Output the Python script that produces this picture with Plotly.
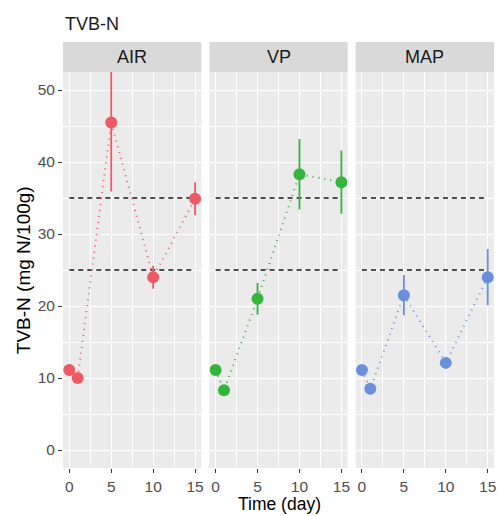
import plotly.graph_objects as go

# Storage days
days = [0, 1, 5, 10, 15]

# Packaging conditions
packages = ["AIR", "VP", "MAP"]

# Mean TVB-N (mg N/100g) per condition
air_mean = [11.1, 10.0, 45.5, 24.0, 34.9]
vp_mean = [11.1, 8.3, 21.0, 38.3, 37.2]
map_mean = [11.1, 8.5, 21.5, 12.1, 24.0]

# Standard deviations (0 where no bar is drawn)
air_sd = [0.0, 0.0, 9.6, 1.6, 2.3]
vp_sd = [0.0, 0.0, 2.2, 4.9, 4.4]
map_sd = [0.0, 0.0, 2.8, 0.0, 3.9]

# Reference limits
limits = [35, 25]

colors = ["#EE5A64", "#34B53D", "#6B8FDA"]
means = [air_mean, vp_mean, map_mean]
sds = [air_sd, vp_sd, map_sd]

FONT = "Liberation Sans, Arial, sans-serif"

W, H = 498, 516
L, R, T, B = 63, 1, 72, 48
plot_w = W - L - R
plot_h = H - T - B
panel_w = 139
gap = 8
domains = []
for i in range(3):
    x0 = i * (panel_w + gap) / plot_w
    x1 = min(1.0, (i * (panel_w + gap) + panel_w) / plot_w)
    domains.append([x0, x1])

fig = go.Figure()

tick_font = dict(family=FONT, size=15.5, color="#4D4D4D")

for i, pkg in enumerate(packages):
    xa = "x" if i == 0 else f"x{i+1}"
    # Reference limit lines
    for lim in limits:
        fig.add_trace(go.Scatter(
            x=[0, 15], y=[lim, lim], mode="lines", xaxis=xa, yaxis="y",
            line=dict(color="#1A1A1A", width=1.3, dash="5px,4px"),
            showlegend=False, hoverinfo="skip"))
    # Dotted connecting line
    fig.add_trace(go.Scatter(
        x=days, y=means[i], mode="lines", xaxis=xa, yaxis="y",
        line=dict(color=colors[i], width=2, dash="1px,5px"),
        showlegend=False, hoverinfo="skip"))
    # Error bars
    fig.add_trace(go.Scatter(
        x=days, y=means[i], mode="markers", xaxis=xa, yaxis="y",
        marker=dict(color=colors[i], size=0.1, opacity=0),
        error_y=dict(type="data", array=sds[i], visible=True,
                     color=colors[i], thickness=1.8, width=0),
        showlegend=False))
    # Points
    fig.add_trace(go.Scatter(
        x=days, y=means[i], mode="markers", xaxis=xa, yaxis="y",
        marker=dict(color=colors[i], size=12, line=dict(width=0)),
        showlegend=False, name=pkg))

    axis = dict(
        domain=domains[i], range=[-0.75, 15.75], anchor="y",
        tickvals=[0, 5, 10, 15], ticks="outside", ticklen=4, tickwidth=1,
        tickcolor="#333333", tickfont=tick_font, showgrid=True,
        gridcolor="white", gridwidth=1.4, zeroline=False, showline=False,
        minor=dict(tickvals=[2.5, 7.5, 12.5], showgrid=True,
                   gridcolor="white", gridwidth=0.6, ticks=""),
    )
    key = "xaxis" if i == 0 else f"xaxis{i+1}"
    fig.layout[key] = axis

    # Panel background
    fig.add_shape(type="rect", xref="paper", yref="paper",
                  x0=domains[i][0], x1=domains[i][1], y0=0, y1=1,
                  fillcolor="#EBEBEB", line=dict(width=0), layer="below")
    # Strip
    fig.add_shape(type="rect", xref="paper", yref="paper",
                  x0=domains[i][0], x1=domains[i][1], y0=1, y1=1 + 30 / plot_h,
                  fillcolor="#D9D9D9", line=dict(width=0), layer="below")
    fig.add_annotation(text=pkg, xref="paper", yref="paper",
                       x=(domains[i][0] + domains[i][1]) / 2, y=1 + 15 / plot_h,
                       showarrow=False, xanchor="center", yanchor="middle",
                       font=dict(family=FONT, size=18, color="#1A1A1A"))

fig.update_layout(
    width=W, height=H,
    margin=dict(l=L, r=R, t=T, b=B),
    paper_bgcolor="white", plot_bgcolor="rgba(0,0,0,0)",
    yaxis=dict(
        range=[-2.5, 52.5], tickvals=[0, 10, 20, 30, 40, 50],
        ticks="outside", ticklen=4, tickwidth=1, tickcolor="#333333",
        tickfont=tick_font, showgrid=True, gridcolor="white", gridwidth=1.4,
        zeroline=False, showline=False,
        minor=dict(tickvals=[5, 15, 25, 35, 45], showgrid=True,
                   gridcolor="white", gridwidth=0.6, ticks=""),
    ),
)

# Plot title
fig.add_annotation(text="TVB-N", xref="paper", yref="paper",
                   x=0, y=1 + 48 / plot_h, xanchor="left", yanchor="middle",
                   showarrow=False,
                   font=dict(family=FONT, size=18, color="#1A1A1A"))
# Axis titles
fig.add_annotation(text="Time (day)", xref="paper", yref="paper",
                   x=0.5, y=0, yshift=-48, xanchor="center", yanchor="bottom",
                   showarrow=False,
                   font=dict(family=FONT, size=17.5, color="#000000"))
fig.add_annotation(text="TVB-N (mg N/100g)", xref="paper", yref="paper",
                   x=-40 / plot_w, y=0.5, xanchor="center", yanchor="middle",
                   textangle=-90, showarrow=False,
                   font=dict(family=FONT, size=19, color="#000000"))

fig.write_html("out.html")
